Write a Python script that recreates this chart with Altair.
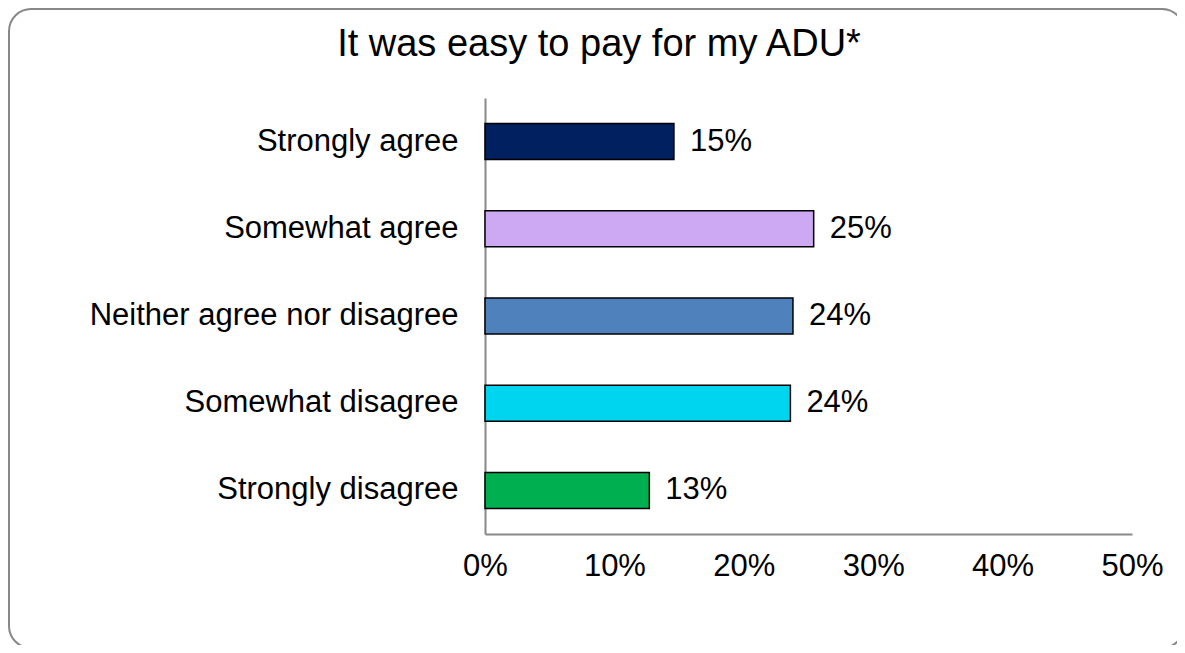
import altair as alt
import pandas as pd

categories = ["Strongly agree", "Somewhat agree", "Neither agree nor disagree",
              "Somewhat disagree", "Strongly disagree"]
values = [14.6, 25.4, 23.8, 23.6, 12.7]
labels = ["15%", "25%", "24%", "24%", "13%"]
colors = ["#002060", "#CDA8F3", "#4F81BD", "#00D5F0", "#00B050"]
x_ticks = [0, 10, 20, 30, 40, 50]
title_text = "It was easy to pay for my ADU*"

df = pd.DataFrame({"cat": categories, "val": values, "lab": labels})

FONT = "Liberation Sans"
FS = 31

y_enc = alt.Y("cat:N", sort=categories,
              scale=alt.Scale(paddingInner=0.587, paddingOuter=0.2935),
              axis=alt.Axis(title=None, ticks=False, labelFontSize=FS, labelFont=FONT,
                            labelColor="#000000", labelPadding=27, labelLimit=600,
                            domainColor="#888888", domainWidth=2, grid=False))
x_enc = alt.X("val:Q", scale=alt.Scale(domain=[0, 50], nice=False),
              axis=alt.Axis(title=None, values=x_ticks, ticks=False, grid=False,
                            labelExpr="datum.value + '%'", labelFontSize=FS,
                            labelFont=FONT, labelColor="#000000", labelPadding=17,
                            labelFlush=False, labelOverlap=False,
                            domainColor="#888888", domainWidth=2))

bars = alt.Chart(df).mark_bar(stroke="#000000", strokeWidth=1.5).encode(
    y=y_enc, x=x_enc,
    color=alt.Color("cat:N", scale=alt.Scale(domain=categories, range=colors), legend=None),
)

text = alt.Chart(df).mark_text(align="left", baseline="middle", dx=16, fontSize=FS,
                               font=FONT, color="#000000").encode(
    y=alt.Y("cat:N", sort=categories), x=alt.X("val:Q"), text="lab:N")

border = alt.Chart(pd.DataFrame({"k": [0]})).mark_rect(
    fill=None, stroke="#888888", strokeWidth=2, cornerRadius=22, clip=False
).encode(x=alt.value(-476), x2=alt.value(699), y=alt.value(-89), y2=alt.value(550))

title = alt.Chart(pd.DataFrame({"t": [title_text]})).mark_text(
    align="center", baseline="alphabetic", fontSize=38, font=FONT, color="#000000"
).encode(x=alt.value(114), y=alt.value(-42), text="t:N")

chart = alt.layer(border, title, bars, text).properties(
    width=647, height=436,
    autosize=alt.AutoSizeParams(type="none"),
    padding={"left": 477, "top": 90, "right": 45, "bottom": 111},
).configure(background="#FFFFFF").configure_view(stroke=None, strokeWidth=0)

chart.save("out.html", embed_options={"renderer": "svg", "actions": False})
